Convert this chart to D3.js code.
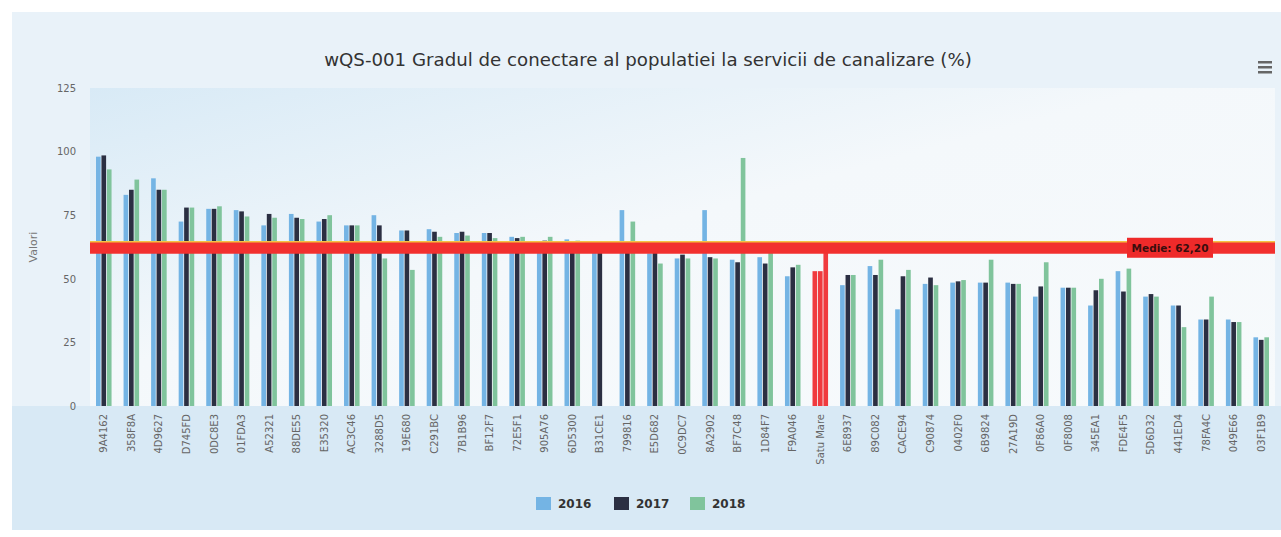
<!DOCTYPE html>
<html lang="ro">
<head>
    <meta charset="utf-8">
    <title>wQS-001</title>
    <script src="https://d3js.org/d3.v7.min.js" charset="utf-8"></script>
    <style type="text/css">
        body { margin: 0; background: #ffffff; }
        svg { display: block; font-family: "DejaVu Sans", sans-serif; }
    </style>
</head>
<body>
	<svg width="1281" height="537"></svg>
	<script>

	    // date
	    var categories = ["9A4162", "358F8A", "4D9627", "D745FD", "0DC8E3", "01FDA3", "A52321", "88DE55",
	        "E35320", "AC3C46", "3288D5", "19E680", "C291BC", "7B1B96", "BF12F7", "72E5F1", "905A76",
	        "6D5300", "B31CE1", "799816", "E5D682", "0C9DC7", "8A2902", "BF7C48", "1D84F7", "F9A046",
	        "Satu Mare", "6E8937", "89C082", "CACE94", "C90874", "0402F0", "6B9824", "27A19D", "0F86A0",
	        "0F8008", "345EA1", "FDE4F5", "5D6D32", "441ED4", "78FA4C", "049E66", "03F1B9"];

	    var v2016 = [98, 83, 89.5, 72.5, 77.5, 77, 71, 75.5, 72.5, 71, 75, 69, 69.5, 68, 68, 66.5, 64.5,
	        65.5, 64, 77, 60, 58, 77, 57.5, 58.5, 51, 53, 47.5, 55, 38, 48, 48.5, 48.5, 48.5, 43,
	        46.5, 39.5, 53, 43, 39.5, 34, 34, 27];

	    var v2017 = [98.5, 85, 85, 78, 77.5, 76.5, 75.5, 74, 73.5, 71, 71, 69, 68.5, 68.5, 68, 66, 65,
	        64.5, 64, 63, 61, 59.5, 58.5, 56.5, 56, 54.5, 53, 51.5, 51.5, 51, 50.5, 49, 48.5, 48, 47,
	        46.5, 45.5, 45, 44, 39.5, 34, 33, 26];

	    var v2018 = [93, 89, 85, 78, 78.5, 74.5, 74, 73.5, 75, 71, 58, 53.5, 66.5, 67, 66, 66.5, 66.5,
	        65, null, 72.5, 56, 58, 58, 97.5, 64.5, 55.5, 62, 51.5, 57.5, 53.5, 47.5, 49.5, 57.5, 48,
	        56.5, 46.5, 50, 54, 43, 31, 43, 33, 27];

	    var years = ["2016", "2017", "2018"];
	    var yTicks = [0, 25, 50, 75, 100, 125];
	    var medie = 62.20;
	    var highlight = "Satu Mare";

	    var colors = { "2016": "#74b4e4", "2017": "#2b2f42", "2018": "#80c49c" };

	    var svg = d3.select("svg"),
	        plotLeft = 90, plotRight = 1275, plotTop = 88, plotBottom = 406;

	    var series = { "2016": v2016, "2017": v2017, "2018": v2018 };

	    var data = categories.map(function(c, i) {
	        return { cat: c, vals: years.map(function(y) { return { year: y, v: series[y][i] }; }) };
	    });

	    // fundal
	    var defs = svg.append("defs");
	    var grad = defs.append("linearGradient").attr("id", "plotbg")
	        .attr("x1", 0).attr("y1", 0).attr("x2", 1).attr("y2", 1);
	    grad.append("stop").attr("offset", "0%").attr("stop-color", "#d8eaf6");
	    grad.append("stop").attr("offset", "45%").attr("stop-color", "#f4f8fb");
	    grad.append("stop").attr("offset", "100%").attr("stop-color", "#f7fafc");

	    svg.append("rect").attr("x", 12).attr("y", 12).attr("width", 1269).attr("height", 518)
	        .attr("fill", "#e9f2f9");
	    svg.append("rect").attr("x", 12).attr("y", plotBottom).attr("width", 1269).attr("height", 124)
	        .attr("fill", "#d8e9f5");
	    svg.append("rect").attr("x", plotLeft).attr("y", plotTop)
	        .attr("width", plotRight - plotLeft).attr("height", plotBottom - plotTop)
	        .attr("fill", "url(#plotbg)");

	    var xScale = d3.scaleBand().domain(categories).range([plotLeft, plotRight]),
	        xInner = d3.scaleBand().domain(years).range([0, xScale.bandwidth()]).paddingOuter(1.1).paddingInner(0.15),
	        yScale = d3.scaleLinear().domain([0, 125]).range([plotBottom, plotTop]);

	    // titlu
	    svg.append("text")
	        .attr("x", 648).attr("y", 66)
	        .attr("text-anchor", "middle")
	        .attr("font-size", 18.2)
	        .attr("fill", "#333333")
	        .text("wQS-001 Gradul de conectare al populatiei la servicii de canalizare (%)");

	    // meniu
	    [0, 5, 10].forEach(function(d) {
	        svg.append("rect").attr("x", 1258).attr("y", 61 + d).attr("width", 14).attr("height", 2.5)
	            .attr("fill", "#666666");
	    });

	    // axa y
	    var yAxis = svg.append("g")
	        .attr("transform", "translate(" + plotLeft + ",0)")
	        .call(d3.axisLeft(yScale).tickValues(yTicks).tickSize(0).tickPadding(14));
	    yAxis.select(".domain").remove();
	    yAxis.selectAll("text").attr("font-size", 10).attr("fill", "#666666").attr("font-family", "DejaVu Sans");

	    svg.append("text")
	        .attr("transform", "translate(37," + ((plotTop + plotBottom) / 2) + ") rotate(-90)")
	        .attr("text-anchor", "middle")
	        .attr("font-size", 11)
	        .attr("fill", "#777777")
	        .text("Valori");

	    // bare
	    var groups = svg.append("g").selectAll("g")
	        .data(data)
	        .enter().append("g")
	        .attr("transform", function(d) { return "translate(" + xScale(d.cat) + ",0)"; });

	    groups.selectAll("rect")
	        .data(function(d) {
	            return d.vals.filter(function(e) { return e.v != null; })
	                .map(function(e) { return { year: e.year, v: e.v, cat: d.cat }; });
	        })
	        .enter().append("rect")
	        .attr("x", function(d) { return xInner(d.year); })
	        .attr("width", xInner.bandwidth())
	        .attr("y", function(d) { return yScale(d.v); })
	        .attr("height", function(d) { return yScale(0) - yScale(d.v); })
	        .attr("fill", function(d) { return d.cat === highlight ? "#f03a3e" : colors[d.year]; });

	    // axa x
	    var xAxis = svg.append("g")
	        .attr("transform", "translate(0," + plotBottom + ")")
	        .call(d3.axisBottom(xScale).tickSize(0).tickPadding(0));
	    xAxis.select(".domain").remove();
	    xAxis.selectAll("text")
	        .attr("font-size", 10)
	        .attr("fill", "#666666")
	        .attr("font-family", "DejaVu Sans")
	        .attr("text-anchor", "end")
	        .attr("dy", "0.35em")
	        .attr("transform", "translate(0,8) rotate(-90)")
	        .attr("x", 0).attr("y", 0);

	    // linia medie
	    svg.append("line")
	        .attr("x1", plotLeft).attr("x2", plotRight)
	        .attr("y1", yScale(medie)).attr("y2", yScale(medie))
	        .attr("stroke", "#f2302f").attr("stroke-width", 12);
	    svg.append("line")
	        .attr("x1", plotLeft).attr("x2", plotRight)
	        .attr("y1", yScale(medie) - 6).attr("y2", yScale(medie) - 6)
	        .attr("stroke", "#f5c242").attr("stroke-width", 1.5);

	    svg.append("rect")
	        .attr("x", 1127).attr("y", yScale(medie) - 10)
	        .attr("width", 86).attr("height", 20)
	        .attr("fill", "#ee2a2a");
	    svg.append("text")
	        .attr("x", 1170).attr("y", yScale(medie) + 4)
	        .attr("text-anchor", "middle")
	        .attr("font-size", 10.5).attr("font-weight", "bold")
	        .attr("fill", "#3a0d0d")
	        .text("Medie: 62,20");

	    // legenda
	    var legend = svg.append("g").attr("transform", "translate(536,497)");
	    var lx = [0, 78, 154];
	    years.forEach(function(y, i) {
	        legend.append("rect").attr("x", lx[i]).attr("y", 0).attr("width", 15).attr("height", 13)
	            .attr("fill", colors[y]);
	        legend.append("text").attr("x", lx[i] + 22).attr("y", 11)
	            .attr("font-size", 12).attr("font-weight", "bold").attr("fill", "#333333")
	            .text(y);
	    });

	</script>
</body>
</html>
